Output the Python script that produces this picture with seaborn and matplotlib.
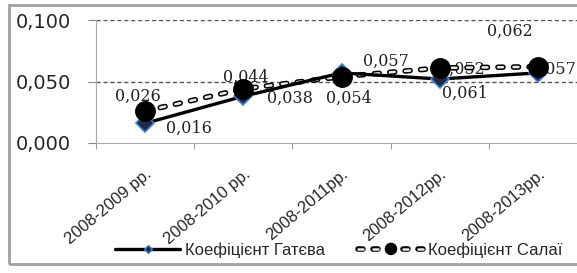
import numpy as np
import pandas as pd
import matplotlib
matplotlib.use("Agg")
import matplotlib.pyplot as plt
import matplotlib.patheffects as pe
from matplotlib.lines import Line2D
from matplotlib.patches import Rectangle
import seaborn as sns

# data
periods = ["2008-2009 рр.", "2008-2010 рр.", "2008-2011рр.", "2008-2012рр.", "2008-2013рр."]
gatev = [0.016, 0.038, 0.057, 0.052, 0.057]
salai = [0.026, 0.044, 0.054, 0.061, 0.062]
gatev_labels = ["0,016", "0,038", "0,057", "0,052", "0,057"]
salai_labels = ["0,026", "0,044", "0,054", "0,061", "0,062"]
y_ticks = [0.0, 0.05, 0.1]
y_ticklabels = ["0,000", "0,050", "0,100"]

# label offsets in pixels (style only)
gatev_off = [(44, -5), (47, -2), (44, 12), (22, 10), (15, 4)]
salai_off = [(-7, 15), (3, 12), (7, -22), (25, -25), (-28, 35)]

sns.set_style("white")
plt.rcParams["font.family"] = ["Liberation Sans", "DejaVu Sans"]

df = pd.DataFrame({"x": np.arange(len(periods)), "gatev": gatev, "salai": salai})

fig = plt.figure(figsize=(5.77, 2.73), dpi=100)
ax = fig.add_axes([96 / 577, 130 / 273, 491 / 577, 123 / 273])

outline = [pe.Stroke(linewidth=4.0, foreground="black"), pe.Normal()]

# Salai: outlined dashed line
sns.lineplot(data=df, x="x", y="salai", ax=ax, color="#e8e8e8", lw=1.8,
             dashes=(2.0, 4.2), dash_capstyle="round", zorder=3, path_effects=outline)
# Gatev: solid black line
sns.lineplot(data=df, x="x", y="gatev", ax=ax, color="black", lw=2.4, zorder=4)

ax.plot(df["x"], df["gatev"], ls="none", marker="D", ms=9, mfc="#1f2a44",
        mec="#3f7fcf", mew=1.2, zorder=5)
ax.plot(df["x"], df["salai"], ls="none", marker="o", ms=14, mfc="black",
        mec="black", zorder=6)

for i in range(len(periods)):
    ax.annotate(gatev_labels[i], (i, gatev[i]), xytext=gatev_off[i],
                textcoords="offset pixels", ha="center", va="center",
                fontsize=11.5, family="DejaVu Serif", color="#222222", zorder=2)
    ax.annotate(salai_labels[i], (i, salai[i]), xytext=salai_off[i],
                textcoords="offset pixels", ha="center", va="center",
                fontsize=11.5, family="DejaVu Serif", color="#222222", zorder=2)

ax.set_xlim(-0.5, 4.5)
ax.set_ylim(0, 0.1)
ax.set_yticks(y_ticks)
ax.set_yticklabels(y_ticklabels, fontsize=14, family="DejaVu Sans")
ax.set_xticks(np.arange(len(periods)))
ax.set_xticklabels(periods, rotation=40, ha="right", rotation_mode="anchor", fontsize=12)
ax.tick_params(axis="x", length=0, pad=17)
ax.tick_params(axis="y", length=6, color="#888888", pad=12, direction="out", left=True)
# category boundary ticks
ax.set_xticks(np.arange(-0.5, 5.0, 1.0), minor=True)
ax.tick_params(axis="x", which="minor", length=4, color="#888888", bottom=True)

ax.grid(False)
for y in y_ticks[1:]:
    ax.axhline(y, color="#555555", lw=1.0, ls=(0, (3, 2)), zorder=1)
ax.set_xlabel("")
ax.set_ylabel("")
for s in ["top", "right"]:
    ax.spines[s].set_visible(False)
ax.spines["left"].set_color("#aaaaaa")
ax.spines["bottom"].set_color("#aaaaaa")

handles = [
    Line2D([], [], color="black", lw=2.4, marker="D", ms=4, mfc="#1f2a44", mec="#3f7fcf"),
    Line2D([], [], color="#e8e8e8", lw=1.8, dashes=(2.0, 4.0), dash_capstyle="round",
           marker="o", ms=5, mfc="black", mec="black", path_effects=outline),
]
fig.legend(handles, ["Коефіцієнт Гатєва", "Коефіцієнт Салаї"], loc="center",
           bbox_to_anchor=(339 / 577, 23 / 273), ncol=2, frameon=False,
           fontsize=12, handlelength=3.9, columnspacing=2.0, handletextpad=0.3)

fig.patches.append(Rectangle((9 / 577, 9 / 273), 1.0, 259 / 273, transform=fig.transFigure,
                             fill=False, edgecolor="#a0a0a0", lw=2))

fig.savefig("out.png", dpi=100)
